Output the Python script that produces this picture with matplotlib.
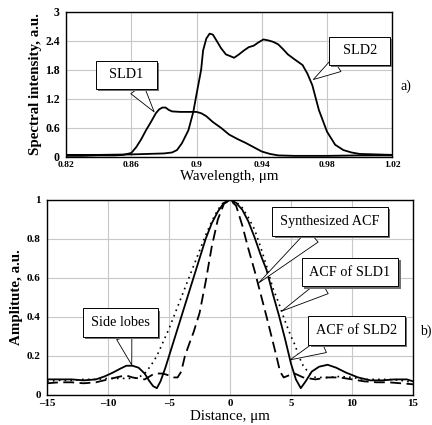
import matplotlib
matplotlib.use('Agg')
import matplotlib.pyplot as plt
import matplotlib.patheffects as pe

plt.rcParams['font.family'] = ['Liberation Serif', 'DejaVu Serif']

# ---- spectra (panel a) ----
wl_sld1 = [0.82, 0.83, 0.84, 0.85, 0.855, 0.86, 0.863, 0.866, 0.869, 0.872,
           0.875, 0.877, 0.879, 0.881, 0.883, 0.885, 0.89, 0.895, 0.9, 0.903,
           0.906, 0.91, 0.915, 0.92, 0.925, 0.93, 0.935, 0.94, 0.945, 0.95,
           0.96, 0.98, 1.0, 1.02]
int_sld1 = [0.02, 0.02, 0.03, 0.03, 0.04, 0.08, 0.2, 0.36, 0.55, 0.72,
            0.9, 0.98, 1.02, 1.02, 0.97, 0.94, 0.93, 0.93, 0.93, 0.9,
            0.84, 0.72, 0.6, 0.46, 0.37, 0.29, 0.2, 0.11, 0.06, 0.03,
            0.02, 0.02, 0.03, 0.03]

wl_sld2 = [0.82, 0.84, 0.86, 0.87, 0.88, 0.885, 0.888, 0.891, 0.895, 0.898,
           0.9, 0.9028, 0.904, 0.906, 0.908, 0.91, 0.912, 0.915, 0.918, 0.921,
           0.923, 0.926, 0.929, 0.932, 0.935, 0.938, 0.941, 0.944, 0.947, 0.95,
           0.953, 0.956, 0.96, 0.965, 0.968, 0.971, 0.975, 0.98, 0.985, 0.99,
           0.995, 1.0, 1.01, 1.02]
int_sld2 = [0.04, 0.04, 0.05, 0.06, 0.07, 0.09, 0.14, 0.28, 0.55, 0.93,
            1.3, 1.8, 2.2, 2.45, 2.55, 2.53, 2.42, 2.25, 2.12, 2.08,
            2.05, 2.12, 2.2, 2.27, 2.3, 2.37, 2.43, 2.41, 2.38, 2.33,
            2.23, 2.12, 2.02, 1.9, 1.72, 1.48, 0.97, 0.52, 0.25, 0.14,
            0.09, 0.06, 0.05, 0.04]

# ---- autocorrelation functions (panel b) ----
x_solid = [-15, -14, -13, -12, -11, -10.3, -9.6, -9, -8.5, -8,
           -7.5, -7, -6.6, -6.3, -6, -5.7, -5.3, -5, -4.5, -4,
           -3.5, -3, -2.5, -2, -1.5, -1, -0.5, 0, 0.5, 1,
           1.5, 2, 2.5, 3, 3.5, 4, 4.5, 5, 5.4, 5.8,
           6.2, 6.7, 7.3, 8, 8.7, 9.5, 10.5, 11.5, 12.5, 13.5,
           14.5, 15]
y_solid = [0.08, 0.08, 0.08, 0.075, 0.08, 0.095, 0.115, 0.135, 0.15, 0.15,
           0.14, 0.11, 0.07, 0.045, 0.035, 0.07, 0.14, 0.2, 0.3, 0.4,
           0.5, 0.6, 0.7, 0.8, 0.88, 0.94, 0.985, 1.0, 0.985, 0.95,
           0.89, 0.81, 0.72, 0.64, 0.52, 0.41, 0.29, 0.16, 0.08, 0.035,
           0.07, 0.12, 0.145, 0.155, 0.14, 0.115, 0.09, 0.075, 0.075, 0.08,
           0.08, 0.07]

x_dash = [-15, -14, -13, -12, -11, -10, -9, -8.5, -8, -7,
          -6.2, -5.5, -5, -4.6, -4.3, -4, -3.7, -3.3, -3, -2.5,
          -2, -1.5, -1, -0.5, 0, 0.5, 1, 1.5, 2, 2.5,
          3, 3.4, 3.8, 4.1, 4.4, 4.8, 5.3, 6, 7, 8,
          9, 10, 11, 12, 13, 14, 15]
y_dash = [0.06, 0.065, 0.065, 0.06, 0.065, 0.08, 0.095, 0.1, 0.09, 0.08,
          0.11, 0.11, 0.1, 0.09, 0.09, 0.12, 0.2, 0.27, 0.32, 0.42,
          0.58, 0.76, 0.9, 0.98, 1.0, 0.97, 0.87, 0.75, 0.64, 0.52,
          0.4, 0.3, 0.2, 0.12, 0.09, 0.1, 0.11, 0.09, 0.08, 0.09,
          0.09, 0.08, 0.07, 0.065, 0.065, 0.06, 0.055]

x_dot = [-15, -14, -13, -12, -11, -10, -9, -8, -7.5, -7,
         -6.5, -6, -5.5, -5, -4.5, -4, -3.5, -3, -2.5, -2,
         -1.5, -1, -0.5, 0, 0.5, 1, 1.5, 2, 2.5, 3,
         3.5, 4, 4.5, 5, 5.3, 5.7, 6, 6.5, 7, 8,
         9, 10, 11, 12, 13, 14, 15]
y_dot = [0.07, 0.075, 0.075, 0.08, 0.08, 0.085, 0.085, 0.085, 0.09, 0.11,
         0.15, 0.2, 0.27, 0.34, 0.42, 0.5, 0.58, 0.66, 0.74, 0.82,
         0.89, 0.95, 0.99, 1.0, 0.99, 0.96, 0.91, 0.85, 0.76, 0.66,
         0.55, 0.47, 0.38, 0.3, 0.26, 0.19, 0.15, 0.11, 0.09, 0.09,
         0.095, 0.09, 0.08, 0.08, 0.08, 0.075, 0.065]

wl_ticks = [0.82, 0.86, 0.9, 0.94, 0.98, 1.02]
int_ticks = [0, 0.6, 1.2, 1.8, 2.4, 3]
dist_ticks = [-15, -10, -5, 0, 5, 10, 15]
amp_ticks = [0, 0.2, 0.4, 0.6, 0.8, 1]


def style_axes(ax, xsize, ysize):
    ax.grid(True, color='#c8c8c8', lw=0.8)
    ax.set_axisbelow(True)
    ax.tick_params(length=0)
    ax.tick_params(axis='x', labelsize=xsize, pad=3)
    ax.tick_params(axis='y', labelsize=ysize, pad=4.5)
    for lab in ax.get_xticklabels() + ax.get_yticklabels():
        lab.set_fontweight('bold')
    for sp in ax.spines.values():
        sp.set_color('black')
        sp.set_linewidth(1.0)


def callout(ax, text, xy, xytext, pad=0.55, aspect=1.0):
    t = ax.annotate(text, xy=xy, xytext=xytext, ha='center', va='center',
                    fontsize=10.3,
                    bbox=dict(boxstyle=f'square,pad={pad}', fc='white',
                              ec='black', lw=0.7, mutation_aspect=aspect),
                    arrowprops=dict(arrowstyle='wedge,tail_width=1.1',
                                    fc='white', ec='black', lw=0.6,
                                    shrinkA=0, shrinkB=0))
    t.get_bbox_patch().set_path_effects([
        pe.SimplePatchShadow(offset=(1.5, -1.5), shadow_rgbFace='#707070',
                             alpha=1.0),
        pe.Normal()])
    return t


fig = plt.figure(figsize=(4.32, 4.25), dpi=100)

# --- panel a ---
ax1 = fig.add_axes([0.153, 0.631, 0.755, 0.341])
ax1.plot(wl_sld1, int_sld1, color='black', lw=1.3)
ax1.plot(wl_sld2, int_sld2, color='black', lw=1.3)
ax1.set_xlim(0.82, 1.02)
ax1.set_ylim(0, 3)
ax1.set_xticks(wl_ticks)
ax1.set_yticks(int_ticks)
ax1.set_xticklabels([f'{v:g}' for v in wl_ticks])
ax1.set_yticklabels([f'{v:g}' for v in int_ticks])
style_axes(ax1, 6.8, 8.5)
ax1.set_xlabel('Wavelength, μm', fontsize=10.8, labelpad=1)
ax1.set_ylabel('Spectral intensity, a.u.', fontsize=10.8,
               fontweight='bold', labelpad=2)
callout(ax1, 'SLD1', (0.874, 0.93), (0.857, 1.7), pad=0.95, aspect=0.55)
callout(ax1, 'SLD2', (0.9716, 1.6), (1.0, 2.2), pad=0.95, aspect=0.55)
fig.text(0.926, 0.798, 'a)', fontsize=10, ha='left', va='center')

# --- panel b ---
ax2 = fig.add_axes([0.109, 0.0706, 0.847, 0.459])
ax2.plot(x_solid, y_solid, color='black', lw=1.3, ls='-')
ax2.plot(x_dash, y_dash, color='black', lw=1.3, ls=(0, (6, 3)))
ax2.plot(x_dot, y_dot, color='black', lw=1.2, ls=(0, (1, 2.5)))
ax2.set_xlim(-15, 15)
ax2.set_ylim(0, 1)
ax2.set_xticks(dist_ticks)
ax2.set_yticks(amp_ticks)
ax2.set_xticklabels([f'{v:g}'.replace('-', '\u2013') for v in dist_ticks])
ax2.set_yticklabels([f'{v:g}' for v in amp_ticks])
style_axes(ax2, 7.8, 8)
ax2.set_xlabel('Distance, μm', fontsize=10.8, labelpad=1)
ax2.set_ylabel('Amplitute, a.u.', fontsize=10.8, fontweight='bold',
               labelpad=3)
callout(ax2, 'Side lobes', (-8.06, 0.154), (-9.0, 0.37))
callout(ax2, 'Synthesized ACF', (2.32, 0.573), (8.2, 0.89))
callout(ax2, 'ACF of SLD1', (4.24, 0.43), (9.84, 0.63))
callout(ax2, 'ACF of SLD2', (4.92, 0.18), (10.4, 0.33))
fig.text(0.986, 0.221, 'b)', fontsize=10, ha='center', va='center')

fig.savefig('out.png', dpi=100)
